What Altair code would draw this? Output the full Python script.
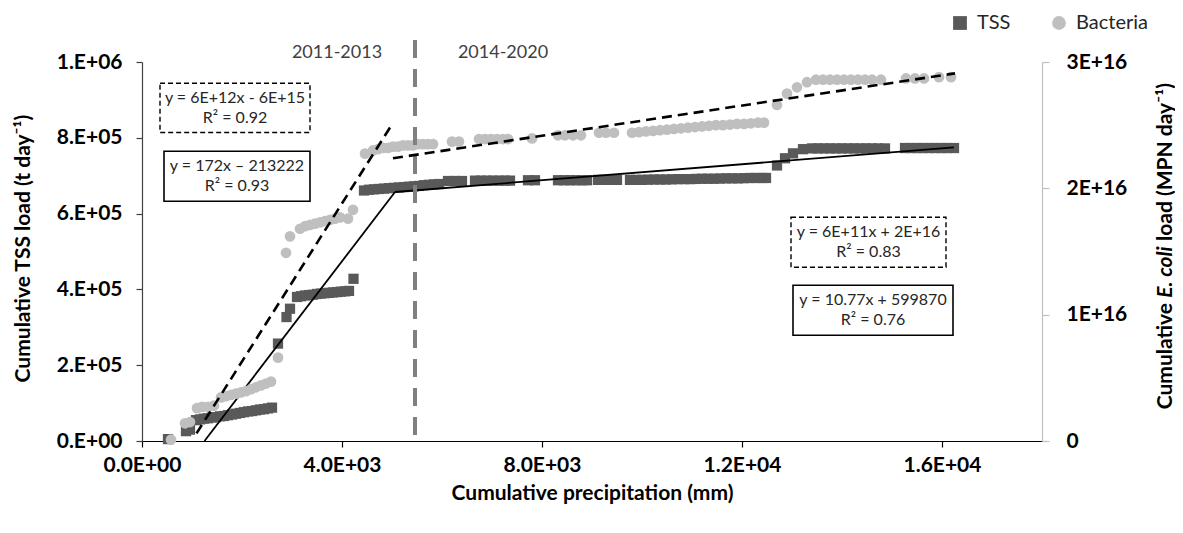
import altair as alt
import pandas as pd

# ---------------- data ----------------
# Cumulative TSS load (t day-1) vs cumulative precipitation (mm)
tss_x = [520, 880, 960,
         1080, 1160, 1240, 1320, 1400, 1480, 1560, 1640, 1720, 1800, 1880, 1960, 2040, 2120, 2200, 2280, 2360, 2440, 2520, 2600,
         2720, 2890, 2960,
         3100, 3180, 3260, 3340, 3420, 3500, 3580, 3660, 3740, 3820, 3900, 3980, 4060, 4140,
         4230,
         4440, 4540, 4640, 4740, 4840, 4940, 5040, 5140, 5240, 5340, 5440, 5540, 5640, 5740, 5840, 5940,
         6120, 6260, 6400,
         6660, 6780, 6900, 7020, 7140, 7260, 7360,
         7720, 7860,
         8320, 8440, 8560, 8680, 8800, 8900,
         9120, 9240, 9360, 9500,
         9760, 9880, 10000, 10120, 10240, 10360, 10480, 10600, 10720, 10840, 10960, 11080,
         11200, 11320, 11440, 11560, 11680, 11800, 11920, 12040, 12160, 12280, 12400, 12480,
         12700, 12860, 13020, 13220,
         13400, 13520, 13640, 13760, 13880, 14000, 14120, 14240, 14360, 14480, 14600, 14720, 14860,
         15260, 15380, 15500, 15620, 15740, 15860, 15980, 16100, 16240]
tss_y = [5000, 26000, 30000,
         55000, 57000, 59000, 60000, 62000, 63000, 65000, 66000, 68000, 70000, 72000, 74000, 76000, 78000, 79000, 81000, 83000, 84000, 86000, 88000,
         257000, 327000, 349000,
         380000, 382000, 384000, 385000, 386000, 388000, 389000, 390000, 391000, 392000, 393000, 394000, 395000, 396000,
         428000,
         661000, 663000, 664000, 665000, 666000, 667000, 668000, 669000, 670000, 671000, 672000, 673000, 675000, 676000, 677000, 678000,
         686000, 686000, 686000,
         687000, 687000, 687000, 687000, 687000, 687000, 687000,
         688000, 688000,
         688000, 688000, 688000, 688000, 688000, 688000,
         689000, 689000, 689000, 689000,
         689000, 689000, 689000, 689500, 690000, 690000, 690000, 690500, 691000, 691000, 691000, 691500,
         692000, 692000, 692000, 692500, 693000, 693000, 693000, 693500, 694000, 694000, 694000, 694000,
         727000, 746000, 759000, 770000,
         772000, 772000, 772000, 772000, 772000, 772000, 772000, 772000, 772000, 772000, 772000, 772000, 772000,
         773000, 773000, 773000, 773000, 773000, 773000, 773000, 773000, 773000]

# Cumulative E. coli load, in units of 1E+16 MPN day-1
bac_x = [580, 860, 960,
         1100, 1200, 1320, 1440,
         1580, 1680, 1780, 1880, 1980, 2080, 2180, 2280, 2380, 2480, 2580,
         2720, 2880, 2960,
         3160, 3260, 3360, 3460, 3560, 3660, 3760, 3860, 3960,
         4120, 4220, 4460,
         4620, 4720, 4820, 4920, 5020, 5120, 5220, 5320, 5420, 5520, 5620, 5720, 5820,
         6200, 6340,
         6740, 6860, 6980, 7100, 7220, 7320,
         7800,
         8320, 8460, 8620, 8780,
         9140, 9280, 9440,
         9800, 9940, 10080, 10220, 10360, 10500, 10640, 10780, 10920, 11060,
         11200, 11340, 11480, 11620, 11760, 11900, 12040, 12180, 12320, 12440,
         12700, 12900, 13100, 13300,
         13480, 13620, 13760, 13900, 14040, 14180, 14320, 14460, 14600, 14780,
         15280, 15460, 15640,
         15940, 16180]
bac_y = [0.01, 0.14, 0.15,
         0.26, 0.27, 0.27, 0.28,
         0.345, 0.355, 0.365, 0.375, 0.385, 0.395, 0.41, 0.425, 0.44, 0.455, 0.47,
         0.66, 1.49, 1.62,
         1.68, 1.70, 1.71, 1.72, 1.73, 1.74, 1.75, 1.76, 1.77,
         1.76, 1.83, 2.275,
         2.30, 2.31, 2.32, 2.32, 2.33, 2.33, 2.34, 2.34, 2.34, 2.35, 2.35, 2.35, 2.35,
         2.37, 2.37,
         2.39, 2.39, 2.39, 2.39, 2.39, 2.39,
         2.395,
         2.42, 2.42, 2.42, 2.42,
         2.44, 2.44, 2.44,
         2.44, 2.445, 2.45, 2.455, 2.46, 2.465, 2.47, 2.475, 2.48, 2.485,
         2.49, 2.495, 2.50, 2.50, 2.505, 2.51, 2.51, 2.515, 2.52, 2.52,
         2.66, 2.75, 2.80, 2.84,
         2.86, 2.86, 2.86, 2.86, 2.86, 2.86, 2.86, 2.86, 2.86, 2.86,
         2.87, 2.87, 2.87,
         2.88, 2.88]

# piecewise trend lines (end points as drawn)
tss_fit_x = [1250, 5060, 5060, 16240]
tss_fit_y = [0, 657000, 657000, 775000]
tss_fit_seg = ["a", "a", "b", "b"]
bac_fit_x = [1090, 4990, 5020, 16260]
bac_fit_y = [0.06, 2.50, 2.238, 2.91]
bac_fit_seg = ["a", "a", "b", "b"]

split_x = [5460]
period_labels = ["2011-2013", "2014-2020"]
period_x = [3900, 7220]

eq_line1 = ["y = 6E+12x - 6E+15", "y = 172x – 213222", "y = 6E+11x + 2E+16", "y = 10.77x + 599870"]
eq_line2 = ["R² = 0.92", "R² = 0.93", "R² = 0.83", "R² = 0.76"]
eq_dashed = [True, False, True, False]
eq_x0 = [360, 440, 12980, 13020]
eq_x1 = [3360, 3360, 16080, 16220]
eq_y0 = [814000, 632500, 458400, 278900]
eq_y1 = [943800, 764400, 590300, 410800]

series_names = ["TSS", "Bacteria"]
x_tick_values = [0, 4000, 8000, 12000, 16000]
x_tick_labels = ["0.0E+00", "4.0E+03", "8.0E+03", "1.2E+04", "1.6E+04"]
yl_tick_values = [0, 200000, 400000, 600000, 800000, 1000000]
yl_tick_labels = ["0.E+00", "2.E+05", "4.E+05", "6.E+05", "8.E+05", "1.E+06"]
yr_tick_values = [0, 1, 2, 3]
yr_tick_labels = ["0", "1E+16", "2E+16", "3E+16"]

# ---------------- tables ----------------
tss_df = pd.DataFrame({"x": tss_x, "y": tss_y, "series": "TSS"})
bac_df = pd.DataFrame({"x": bac_x, "y": bac_y, "series": "Bacteria"})
tss_fit_df = pd.DataFrame({"x": tss_fit_x, "y": tss_fit_y, "seg": tss_fit_seg})
bac_fit_df = pd.DataFrame({"x": bac_fit_x, "y": bac_fit_y, "seg": bac_fit_seg})
eq_df = pd.DataFrame({"l1": eq_line1, "l2": eq_line2, "dashed": eq_dashed, "x": eq_x0, "x2": eq_x1,
                      "y": eq_y0, "y2": eq_y1})
eq_df["xm"] = (eq_df["x"] + eq_df["x2"]) / 2
eq_df["ym"] = (eq_df["y"] + eq_df["y2"]) / 2
period_df = pd.DataFrame({"x": period_x, "label": period_labels})
split_df = pd.DataFrame({"x": split_x})

FONT = "Lato"


def label_expr(values, labels):
    expr = "''"
    for v, l in reversed(list(zip(values, labels))):
        expr = f"datum.value == {v} ? '{l}' : ({expr})"
    return expr


x_axis = alt.Axis(values=x_tick_values, labelExpr=label_expr(x_tick_values, x_tick_labels),
                  grid=False, labelFlush=False, labelOverlap=False,
                  labelFont=FONT, labelFontSize=21, labelFontWeight="bold", labelColor="black",
                  labelPadding=7, tickSize=6, tickColor="black", domainColor="black",
                  domainWidth=1.2, tickWidth=1.2,
                  title="Cumulative precipitation (mm)", titleFont=FONT, titleFontSize=21,
                  titleFontWeight="bold", titleColor="black", titleX=450, titleY=52,
                  titleAlign="center", titleBaseline="middle")

yl_axis = alt.Axis(values=yl_tick_values, labelExpr=label_expr(yl_tick_values, yl_tick_labels),
                   grid=False, labelOverlap=False, labelFlush=False,
                   labelFont=FONT, labelFontSize=21, labelFontWeight="bold", labelColor="black",
                   labelPadding=14, tickSize=6, tickColor="#404040", domainColor="#404040",
                   domainWidth=1.2, tickWidth=1.2,
                   title="Cumulative TSS load (t day⁻¹)", titleFont=FONT, titleFontSize=21,
                   titleFontWeight="bold", titleColor="black", titleX=-119, titleY=186,
                   titleAngle=270, titleAlign="center", titleBaseline="middle")

yr_axis = alt.Axis(orient="right", values=yr_tick_values,
                   labelExpr=label_expr(yr_tick_values, yr_tick_labels),
                   grid=False, labelOverlap=False, labelFlush=False,
                   labelFont=FONT, labelFontSize=21, labelFontWeight="bold", labelColor="black",
                   labelPadding=17, tickSize=7, tickColor="#BFBFBF", domainColor="#BFBFBF",
                   domainWidth=1.2, tickWidth=1.2, title=None)

x_scale = alt.Scale(domain=[0, 18000], nice=False, zero=False)
yl_scale = alt.Scale(domain=[0, 1000000], nice=False)
yr_scale = alt.Scale(domain=[0, 3], nice=False)

color_scale = alt.Scale(domain=series_names, range=["#595959", "#BFBFBF"])
shape_scale = alt.Scale(domain=series_names, range=["square", "circle"])
legend = alt.Legend(orient="none", legendX=808, legendY=-49, direction="horizontal", title=None,
                    labelFont=FONT, labelFontSize=20, labelColor="#262626", symbolSize=190,
                    symbolStrokeWidth=0, labelOffset=7, columnPadding=38, padding=0)


def X(f):
    return alt.X(f"{f}:Q", scale=x_scale, axis=x_axis)


def YL(f):
    return alt.Y(f"{f}:Q", scale=yl_scale, axis=yl_axis)


def YR(f):
    return alt.Y(f"{f}:Q", scale=yr_scale, axis=yr_axis)


color = alt.Color("series:N", scale=color_scale, legend=legend)
shape = alt.Shape("series:N", scale=shape_scale, legend=legend)

# ---------------- left (TSS) layer ----------------
tss_pts = alt.Chart(tss_df).mark_point(filled=True, size=105, opacity=1).encode(
    x=X("x"), y=YL("y"), color=color, shape=shape)

tss_fit = alt.Chart(tss_fit_df).mark_line(color="black", strokeWidth=1.8).encode(
    x=X("x"), y=YL("y"), detail="seg:N")

box_solid = alt.Chart(eq_df).transform_filter("!datum.dashed").mark_rect(
    fill="white", stroke="black", strokeWidth=1.6).encode(
    x=X("x"), x2="x2:Q", y=YL("y"), y2="y2:Q")
box_dashed = alt.Chart(eq_df).transform_filter("datum.dashed").mark_rect(
    fill="white", stroke="black", strokeWidth=1.4, strokeDash=[5, 3]).encode(
    x=X("x"), x2="x2:Q", y=YL("y"), y2="y2:Q")
box_text1 = alt.Chart(eq_df).mark_text(font=FONT, fontSize=16, color="#262626", dy=-10,
                                       baseline="middle", align="center").encode(
    x=X("xm"), y=YL("ym"), text="l1:N")
box_text2 = alt.Chart(eq_df).mark_text(font=FONT, fontSize=16, color="#262626", dy=10,
                                       baseline="middle", align="center").encode(
    x=X("xm"), y=YL("ym"), text="l2:N")

period_text = alt.Chart(period_df).mark_text(font=FONT, fontSize=18, color="#404040",
                                             baseline="middle", align="center").encode(
    x=X("x"), y=alt.value(-9), text="label:N")

title_df = pd.DataFrame({"t": ["Cumulative", "E. coli", "load (MPN day⁻¹)"]})
rt_common = dict(font=FONT, fontSize=21, fontWeight="bold", color="black", angle=270,
                 baseline="middle")
rt1 = alt.Chart(title_df).transform_filter("datum.t == 'Cumulative'").mark_text(
    align="right", **rt_common).encode(x=alt.value(1024), y=alt.value(241), text="t:N")
rt2 = alt.Chart(title_df).transform_filter("datum.t == 'E. coli'").mark_text(
    align="center", fontStyle="italic", **rt_common).encode(x=alt.value(1024), y=alt.value(210), text="t:N")
rt3 = alt.Chart(title_df).transform_filter("indexof(datum.t, 'load') == 0").mark_text(
    align="left", **rt_common).encode(x=alt.value(1024), y=alt.value(179), text="t:N")

left = alt.layer(tss_pts, tss_fit, box_solid, box_dashed, box_text1, box_text2, period_text,
                 rt1, rt2, rt3)

# ---------------- right (bacteria) layer ----------------
bac_pts = alt.Chart(bac_df).mark_point(filled=True, size=115, opacity=1).encode(
    x=X("x"), y=YR("y"), color=color, shape=shape)

split_rule = alt.Chart(split_df).mark_rule(color="#808080", strokeWidth=4, strokeDash=[18, 11]).encode(
    x=X("x"), y=alt.value(-22), y2=alt.value(379))

bac_fit = alt.Chart(bac_fit_df).mark_line(color="black", strokeWidth=2.6, strokeDash=[10, 6]).encode(
    x=X("x"), y=YR("y"), detail="seg:N")

right = alt.layer(bac_pts, split_rule, bac_fit)

chart = alt.layer(left, right).resolve_scale(y="independent").properties(
    width=900, height=379,
    padding={"left": 134, "top": 54, "right": 133, "bottom": 75},
    autosize=alt.AutoSizeParams(type="none"),
    background="white",
).configure_view(stroke=None)

chart.save("out.html", embed_options={"renderer": "svg", "actions": False})
